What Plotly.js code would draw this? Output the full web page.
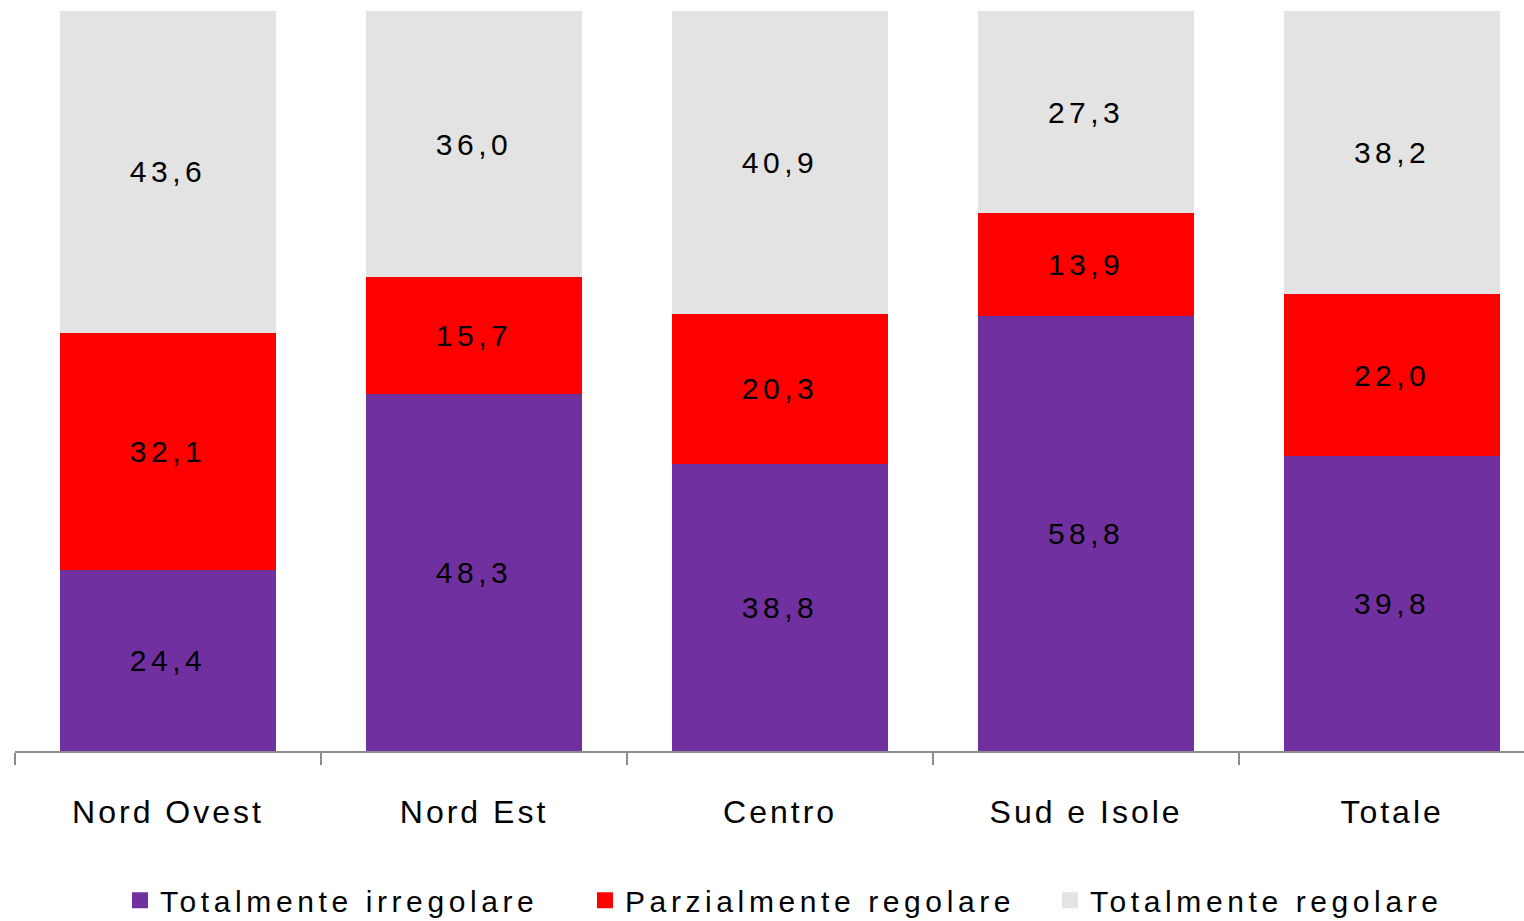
<!DOCTYPE html>
<html>
<head>
<meta charset="utf-8">
<script src="https://cdn.plot.ly/plotly-3.0.1.min.js"></script>
<style>
  html, body { margin: 0; padding: 0; background: #fff; }
  #chart { width: 1524px; height: 921px; }
  text { letter-spacing: 3px; }
  text.bartext { letter-spacing: 4.5px; }
  text.legendtext { letter-spacing: 4.6px; }
</style>
</head>
<body>
<div id="chart"></div>
<script>
const categories = ["Nord Ovest", "Nord Est", "Centro", "Sud e Isole", "Totale"];
const totalmenteIrregolare = [24.4, 48.3, 38.8, 58.8, 39.8];
const parzialmenteRegolare = [32.1, 15.7, 20.3, 13.9, 22.0];
const totalmenteRegolare = [43.6, 36.0, 40.9, 27.3, 38.2];
const seriesNames = ["Totalmente irregolare", "Parzialmente regolare", "Totalmente regolare"];
const seriesColors = ["#7030A0", "#FF0000", "#E3E3E3"];
const seriesValues = [totalmenteIrregolare, parzialmenteRegolare, totalmenteRegolare];

const FONT = "Liberation Sans, Arial, sans-serif";

const traces = [];
seriesValues.forEach((vals, i) => {
  traces.push({
    type: "bar",
    x: categories,
    y: vals,
    name: seriesNames[i],
    marker: { color: seriesColors[i], line: { width: 0 } },
    texttemplate: "%{y:.1f}",
    textposition: "inside",
    insidetextanchor: "middle",
    textangle: 0,
    constraintext: "none",
    insidetextfont: { family: FONT, size: 30, color: "#000000" },
    showlegend: false,
    hoverinfo: "x+y+name"
  });
});
seriesValues.forEach((vals, i) => {
  traces.push({
    type: "scatter",
    mode: "markers",
    x: [null],
    y: [null],
    name: seriesNames[i],
    marker: { color: seriesColors[i], symbol: "square", size: 20 },
    showlegend: true,
    hoverinfo: "skip"
  });
});

const layout = {
  width: 1524,
  height: 921,
  margin: { l: 15, r: 0, t: 11, b: 170, autoexpand: false },
  paper_bgcolor: "#ffffff",
  plot_bgcolor: "#ffffff",
  barmode: "stack",
  bargap: 0.294,
  separators: ",.",
  font: { family: FONT, size: 30, color: "#000000" },
  xaxis: {
    type: "category",
    range: [-0.5, 4.431],
    showline: true,
    linecolor: "#8c8c8c",
    linewidth: 2,
    ticks: "outside",
    tickson: "boundaries",
    ticklen: 12,
    tickwidth: 2,
    tickcolor: "#8c8c8c",
    ticklabelstandoff: 32,
    tickfont: { family: FONT, size: 32, color: "#000000" },
    showgrid: false,
    zeroline: false,
    automargin: false,
    fixedrange: true
  },
  yaxis: {
    range: [0, 100],
    visible: false,
    showgrid: false,
    zeroline: false,
    fixedrange: true
  },
  legend: {
    orientation: "h",
    x: 0.5318,
    xanchor: "center",
    yref: "container",
    y: 0.0225,
    yanchor: "middle",
    traceorder: "normal",
    entrywidth: 420,
    font: { family: FONT, size: 30, color: "#000000" },
    itemsizing: "trace"
  },
  showlegend: true
};

Plotly.newPlot("chart", traces, layout, { displayModeBar: false, staticPlot: true });
</script>
</body>
</html>
